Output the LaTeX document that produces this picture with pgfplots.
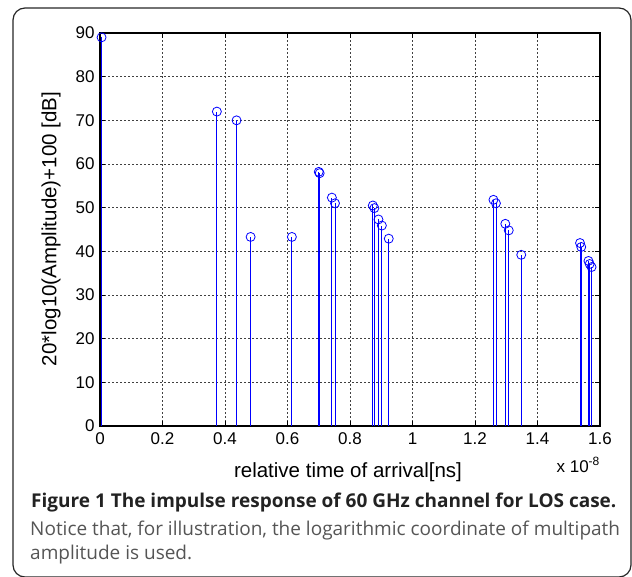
\documentclass[border=0pt]{standalone}
\usepackage{pgfplots}
\pgfplotsset{compat=1.18}
\usepackage{fontspec}
\setmainfont{Liberation Sans}
\newfontfamily\capfont{Open Sans}
\definecolor{capgray}{HTML}{555555}
\definecolor{capdark}{HTML}{222222}

\begin{document}
\begin{tikzpicture}[x=1pt,y=1pt]
\useasboundingbox (0,0) rectangle (632,576);
% frame round figure and caption
\draw[line width=1.2pt, black!85, rounded corners=12pt] (13,-1) rectangle (631,568);

\begin{axis}[
    at={(100pt,150pt)}, anchor=south west,
    scale only axis,
    width=500pt, height=393pt,
    xmin=0, xmax=1.6, ymin=0, ymax=90,
    xtick={0,0.2,...,1.6},
    ytick={0,10,...,90},
    tick align=inside,
    major tick length=5pt,
    axis line style={line width=1.1pt},
    tick style={black, line width=0.6pt},
    grid=major,
    major grid style={black!75, line width=0.6pt, dash pattern=on 2pt off 2pt},
    ticklabel style={font=\fontsize{17}{17}\selectfont},
    /pgf/number format/assume math mode=true,
    xticklabel style={yshift=-3pt},
    yticklabel style={xshift=-2pt},
]
\addplot[ycomb, blue, line width=0.8pt, mark=o, mark size=4.5pt,
    mark options={solid, line width=0.8pt}] coordinates {
    (0.005, 89.0)
    (0.374, 72.0)
    (0.437, 70.0)
    (0.482, 43.3)
    (0.614, 43.3)
    (0.700, 58.2)
    (0.703, 57.9)
    (0.742, 52.3)
    (0.752, 51.0)
    (0.873, 50.5)
    (0.878, 49.9)
    (0.891, 47.3)
    (0.902, 45.9)
    (0.924, 42.9)
    (1.259, 51.8)
    (1.267, 51.0)
    (1.297, 46.3)
    (1.308, 44.8)
    (1.348, 39.2)
    (1.536, 41.9)
    (1.540, 41.0)
    (1.563, 37.8)
    (1.567, 37.1)
    (1.573, 36.4)
};
\end{axis}

% axis labels
\node[rotate=90, font=\fontsize{20.5}{20.5}\selectfont] at (51,347) {20*log10(Amplitude)+100 [dB]};
\node[font=\fontsize{20.5}{20.5}\selectfont] at (348,104) {relative time of arrival[ns]};
\node[font=\fontsize{17}{17}\selectfont] at (578,111) {x 10\raisebox{0.8ex}{\fontsize{12}{12}\selectfont -8}};

% caption
\node[anchor=base west, inner sep=0pt, text=capdark, font=\capfont\bfseries\fontsize{19}{19}\selectfont] at (31,68)
    {Figure 1 The impulse response of 60 GHz channel for LOS case.};
\node[anchor=base west, inner sep=0pt, text=capgray, font=\capfont\fontsize{19}{19}\selectfont] at (30,41)
    {Notice that, for illustration, the logarithmic coordinate of multipath};
\node[anchor=base west, inner sep=0pt, text=capgray, font=\capfont\fontsize{19}{19}\selectfont] at (30,17)
    {amplitude is used.};
\end{tikzpicture}
\end{document}
